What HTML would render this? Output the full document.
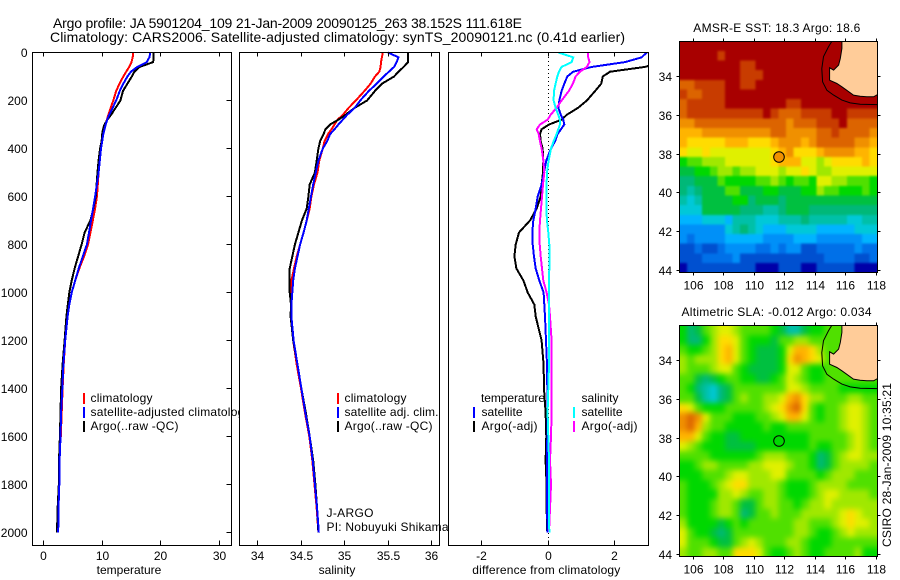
<!DOCTYPE html>
<html>
<head>
<meta charset="utf-8">
<title>Argo profile</title>
<style>
html,body{margin:0;padding:0;background:#fff;width:900px;height:580px;overflow:hidden}
svg{display:block}
text{font-family:"Liberation Sans",sans-serif;font-size:12px;fill:#000}
.t{font-size:14px}
.frame{fill:none;stroke:#000;stroke-width:1;shape-rendering:crispEdges}
.bg{fill:#fff;stroke:none}
</style>
</head>
<body>
<svg id="fig" xmlns="http://www.w3.org/2000/svg" width="900" height="580" viewBox="0 0 900 580">
  <rect class="bg" x="0" y="0" width="900" height="580"/>
  <defs>
    <clipPath id="clip-diff"><rect x="448.5" y="52.5" width="200" height="493"/></clipPath>
    <clipPath id="clip-sst"><rect x="679.5" y="41.5" width="198" height="231"/></clipPath>
    <clipPath id="clip-sla"><rect x="679.5" y="325.5" width="198" height="231"/></clipPath>
    <filter id="blur-sst" filterUnits="userSpaceOnUse" x="640" y="0" width="260" height="310" color-interpolation-filters="sRGB"><feGaussianBlur stdDeviation="1"/></filter>
    <filter id="blur-sla" filterUnits="userSpaceOnUse" x="640" y="290" width="260" height="290" color-interpolation-filters="sRGB"><feGaussianBlur stdDeviation="3"/></filter>
  </defs>

  <text class="t" x="53" y="28" textLength="469">Argo profile: JA 5901204_109 21-Jan-2009 20090125_263 38.152S 111.618E</text>
  <text class="t" x="50" y="42" textLength="575">Climatology: CARS2006. Satellite-adjusted climatology: synTS_20090121.nc (0.41d earlier)</text>

  <g>
    <rect class="bg" x="32.5" y="52.5" width="199" height="493"/>
    <g id="temp-marks"></g>
    <rect class="frame" x="32.5" y="52.5" width="199" height="493"/>
    <g id="temp-ticks"></g>
    <text x="129" y="574" text-anchor="middle">temperature</text>
    <g>
      <rect x="83" y="393" width="2" height="11" fill="#f00"/>
      <text x="90.5" y="402" textLength="62">climatology</text>
      <rect x="83" y="407" width="2" height="11" fill="#00f"/>
      <text x="90.5" y="416" textLength="160">satellite-adjusted climatology</text>
      <rect x="83" y="421" width="2" height="11" fill="#000"/>
      <text x="90.5" y="430" textLength="88">Argo(..raw -QC)</text>
    </g>
  </g>

  <g>
    <rect class="bg" x="239.5" y="52.5" width="200" height="493"/>
    <g id="sal-marks"></g>
    <rect class="frame" x="239.5" y="52.5" width="200" height="493"/>
    <g id="sal-ticks"></g>
    <text x="337" y="574" text-anchor="middle">salinity</text>
    <g>
      <rect x="337" y="393" width="2" height="11" fill="#f00"/>
      <text x="344.5" y="402" textLength="62">climatology</text>
      <rect x="337" y="407" width="2" height="11" fill="#00f"/>
      <text x="344.5" y="416" textLength="94">satellite adj. clim.</text>
      <rect x="337" y="421" width="2" height="11" fill="#000"/>
      <text x="344.5" y="430" textLength="88">Argo(..raw -QC)</text>
    </g>
    <text x="326.5" y="517" textLength="47">J-ARGO</text>
    <text x="326.5" y="531" textLength="122">PI: Nobuyuki Shikama</text>
  </g>

  <g>
    <rect class="bg" x="448.5" y="52.5" width="200" height="493"/>
    <line x1="548.5" y1="53" x2="548.5" y2="545" stroke="#000" stroke-width="1" stroke-dasharray="1 3" shape-rendering="crispEdges"/>
    <g id="diff-marks" clip-path="url(#clip-diff)"></g>
    <rect class="frame" x="448.5" y="52.5" width="200" height="493"/>
    <g id="diff-ticks"></g>
    <text x="546.3" y="574" text-anchor="middle" textLength="148">difference from climatology</text>
    <g>
      <text x="481" y="402" textLength="64">temperature</text>
      <rect x="473" y="407" width="2" height="11" fill="#00f"/>
      <text x="481.5" y="416" textLength="41">satellite</text>
      <rect x="473" y="421" width="2" height="11" fill="#000"/>
      <text x="481.5" y="430" textLength="56">Argo(-adj)</text>
      <text x="581.5" y="402" textLength="37">salinity</text>
      <rect x="573" y="407" width="2" height="11" fill="#0ff"/>
      <text x="581.5" y="416" textLength="41">satellite</text>
      <rect x="573" y="421" width="2" height="11" fill="#f0f"/>
      <text x="581.5" y="430" textLength="56">Argo(-adj)</text>
    </g>
  </g>

  <g>
    <text x="693.3" y="32" textLength="167">AMSR-E SST: 18.3 Argo: 18.6</text>
    <g id="sst-cells" clip-path="url(#clip-sst)"></g>
    <rect class="frame" x="679.5" y="41.5" width="198" height="231"/>
    <g id="sst-ticks"></g>
  </g>

  <g>
    <text x="681.5" y="316" textLength="190">Altimetric SLA: -0.012 Argo: 0.034</text>
    <g id="sla-cells" clip-path="url(#clip-sla)"></g>
    <rect class="frame" x="679.5" y="325.5" width="198" height="231"/>
    <g id="sla-ticks"></g>
  </g>

  <text transform="translate(891 547) rotate(-90)" x="0" y="0" textLength="164">CSIRO 28-Jan-2009 10:35:21</text>
</svg>

<script>
// ---------- profile data ----------
var depths = [0,20,40,60,80,100,130,160,200,230,260,280,300,320,340,370,400,450,500,550,600,650,700,750,800,850,900,950,1000,1050,1100,1200,1300,1400,1500,1600,1700,1800,1900,2000];

var tempClim = [15.3,15.2,15.0,14.6,14.1,13.6,12.95,12.4,11.9,11.45,11.05,10.8,10.6,10.4,10.2,10.0,9.8,9.6,9.4,9.25,9.1,8.8,8.4,8.0,7.6,6.9,6.1,5.4,4.8,4.4,4.1,3.7,3.45,3.25,3.1,2.95,2.6,2.7,2.45,2.4];
var tempSat = [18.2,18.05,17.6,16.0,14.9,14.3,13.6,13.0,12.4,11.8,11.2,10.85,10.6,10.4,10.2,10.0,9.8,9.6,9.4,9.1,8.8,8.45,8.1,7.75,7.4,6.7,6.0,5.4,4.8,4.4,4.1,3.7,3.4,3.2,3.0,2.9,2.75,2.7,2.55,2.5];
var tempArgo = [18.75,18.75,18.7,16.4,15.5,15.05,14.3,13.55,13.1,12.3,11.5,10.9,10.4,10.15,10.0,9.9,9.65,9.4,9.2,9.05,8.9,8.5,8.0,7.0,6.5,5.9,5.3,4.8,4.4,4.15,3.9,3.6,3.25,3.0,2.9,2.8,2.65,2.6,2.4,2.3];

var salClim = [35.44,35.43,35.42,35.415,35.40,35.35,35.30,35.23,35.13,35.05,34.98,34.92,34.885,34.85,34.81,34.77,34.75,34.71,34.69,34.65,34.62,34.60,34.565,34.53,34.49,34.45,34.42,34.39,34.39,34.39,34.385,34.41,34.45,34.50,34.545,34.595,34.63,34.655,34.68,34.70];
var salSat = [35.50,35.62,35.60,35.57,35.51,35.45,35.37,35.28,35.18,35.12,35.03,34.98,34.93,34.885,34.835,34.80,34.75,34.70,34.67,34.64,34.615,34.59,34.565,34.53,34.49,34.46,34.43,34.41,34.40,34.39,34.39,34.415,34.46,34.505,34.55,34.60,34.635,34.66,34.685,34.705];
var salArgo = [35.73,35.73,35.73,35.68,35.62,35.57,35.43,35.35,35.26,35.12,35.01,34.93,34.835,34.78,34.76,34.72,34.70,34.68,34.66,34.60,34.585,34.565,34.51,34.47,34.43,34.40,34.37,34.37,34.37,34.385,34.38,34.41,34.46,34.505,34.555,34.60,34.64,34.665,34.685,34.70];

var diffTempSat = [2.96,2.81,2.31,1.31,0.75,0.57,0.48,0.40,0.33,0.30,0.38,0.45,0.48,0.38,0.28,0.20,0.08,-0.06,-0.13,-0.20,-0.32,-0.38,-0.45,-0.48,-0.47,-0.43,-0.38,-0.27,-0.14,-0.12,-0.10,-0.07,-0.04,-0.03,-0.02,-0.03,-0.04,-0.04,-0.04,-0.02];
var diffTempArgo = [3.5,3.5,3.4,2.91,1.86,1.64,1.59,1.41,1.16,0.90,0.55,0.40,0.02,-0.20,-0.25,-0.23,-0.17,-0.15,-0.16,-0.20,-0.23,-0.35,-0.55,-0.88,-0.98,-1.02,-0.96,-0.75,-0.62,-0.42,-0.38,-0.20,-0.14,-0.13,-0.08,-0.06,-0.08,-0.05,-0.05,-0.03];
var diffSalSat = [0.30,0.75,0.70,0.40,0.32,0.27,0.22,0.17,0.16,0.22,0.30,0.35,0.35,0.30,0.25,0.16,0.08,0.01,-0.04,-0.05,-0.05,-0.06,-0.04,0,0.03,0.03,0.03,0.02,0.02,0.02,0.02,0.02,0.02,0,-0.02,0,0.02,0.02,0.02,0.03];
var diffSalArgo = [1.20,1.20,1.24,1.16,0.95,0.82,0.74,0.62,0.40,0.25,0.07,-0.02,-0.25,-0.35,-0.29,-0.25,-0.20,-0.15,-0.12,-0.16,-0.19,-0.22,-0.25,-0.27,-0.26,-0.23,-0.19,-0.15,-0.05,0.02,0.05,0.10,0.10,0.10,0.10,0.08,0.05,0.08,0.05,0.02];

var depthTicks = [0,200,400,600,800,1000,1200,1400,1600,1800,2000];
var tempTicks = [0,10,20,30];
var salTicks = [34,34.5,35,35.5,36];
var diffTicks = [-2,0,2];
var lonTicks = [106,108,110,112,114,116,118];
var latTicks = [34,36,38,40,42,44];

// ---------- map data: colour-level grids, 0.5 degree cells ----------
var sstGrid = [
[0,0,0,0,0,0,0,0,0,0,0,0,0,0,0,0,0,0,0,0,0,0,0,0,0,0],
[0,0,0,0,0,1,0,0,0,0,0,0,0,0,0,0,0,0,0,0,0,0,0,0,0,0],
[0,0,0,0,0,0,0,0,1,1,0,0,0,0,0,0,0,0,0,0,0,0,0,0,0,0],
[0,0,0,0,0,0,0,0,1,1,1,0,0,0,0,0,0,0,0,0,0,0,0,0,0,0],
[2,2,1,1,1,1,0,0,1,1,0,0,0,0,0,0,0,0,0,0,0,0,0,0,0,0],
[1,2,2,1,1,1,0,0,0,0,0,0,0,0,0,0,0,0,0,0,0,0,0,0,0,0],
[2,1,1,1,1,1,0,0,0,0,0,0,0,0,1,1,0,0,0,0,0,0,0,0,0,0],
[2,1,1,1,1,1,1,1,1,1,1,0,1,2,2,2,1,1,1,1,0,0,1,1,1,1],
[3,3,2,2,2,2,2,2,2,2,2,2,2,2,3,2,2,2,1,1,1,0,2,2,2,2],
[4,4,4,3,3,3,3,3,3,3,3,3,2,2,3,3,3,3,2,2,1,2,2,2,2,3],
[4,5,5,5,5,5,4,4,4,5,5,5,4,3,3,3,4,3,2,2,2,2,2,3,3,4],
[5,6,6,5,6,6,6,6,6,6,6,6,5,4,3,5,5,5,4,3,3,3,3,4,4,5],
[9,8,8,7,7,7,6,6,6,6,6,6,5,4,4,4,6,6,7,6,5,5,5,5,4,5],
[10,10,9,9,8,7,7,8,7,7,6,6,6,7,6,6,5,6,7,7,6,6,6,6,6,6],
[11,11,10,10,10,8,9,9,9,9,8,8,7,8,9,8,8,9,6,6,7,7,8,8,8,9],
[11,12,11,10,10,10,8,8,10,10,10,9,9,10,10,10,9,9,7,8,8,9,9,9,8,9],
[12,13,12,10,10,10,10,9,9,11,10,10,10,11,10,10,10,10,10,10,10,10,10,10,10,10],
[13,13,13,10,10,10,10,10,11,11,11,12,12,11,10,10,10,11,11,11,11,11,11,11,11,11],
[14,14,14,13,13,13,14,12,12,12,13,13,13,12,12,12,11,12,12,12,12,12,13,13,12,12],
[15,15,15,15,15,15,13,12,11,12,13,14,14,14,13,13,13,13,14,14,14,14,14,13,13,13],
[15,16,15,15,15,15,14,14,14,14,14,15,15,15,15,14,14,14,15,15,15,15,15,15,14,14],
[17,17,16,17,17,16,15,15,15,15,16,16,15,16,15,15,17,17,16,16,16,16,16,15,16,16],
[17,17,17,16,16,16,16,15,17,17,17,17,17,17,17,17,17,17,17,16,16,16,16,17,17,16],
[18,17,17,17,17,17,17,17,17,17,18,18,18,17,17,17,18,18,17,17,17,17,17,18,18,18]
];
var slaGrid = [
[9,11,10,8,7,6,6,7,8,8,8,8,9,10,12,12,10,9,9,8,8,8,8,8,8,8],
[9,11,11,9,7,5,5,6,8,9,9,9,10,8,8,7,7,8,8,8,8,8,8,8,8,8],
[8,9,9,8,7,5,4,6,8,9,10,10,10,9,6,4,4,5,7,8,8,8,8,8,8,8],
[7,8,7,7,7,5,4,6,8,9,10,10,10,9,5,3,4,5,6,8,8,8,8,8,8,8],
[7,8,8,8,7,6,6,8,9,10,10,10,10,9,6,6,8,9,9,8,8,8,8,8,8,8],
[8,8,10,11,10,9,8,8,9,9,10,10,9,8,6,7,8,9,9,8,8,8,8,8,8,8],
[8,9,11,12,13,11,10,8,8,8,8,8,8,8,6,6,7,8,8,8,8,9,9,9,9,9],
[8,8,10,12,13,11,10,8,7,8,8,7,7,6,4,3,5,7,7,8,8,8,7,7,8,8],
[5,6,8,9,9,9,8,8,8,8,8,7,6,5,3,2,5,8,9,8,8,7,6,6,7,8],
[3,2,3,6,8,8,8,9,9,9,8,8,7,6,4,4,6,8,9,8,8,7,6,6,7,8],
[3,2,4,7,8,8,9,9,9,9,9,8,9,9,8,8,8,8,8,8,8,7,6,6,7,8],
[4,4,6,8,9,9,10,10,9,9,9,9,9,9,9,9,9,8,8,8,8,8,7,6,7,8],
[6,7,8,9,9,9,10,10,10,10,9,9,9,9,9,9,9,8,9,9,8,8,7,6,7,8],
[8,8,8,8,9,9,9,9,9,9,8,7,7,7,8,8,8,9,11,10,8,7,6,6,7,7],
[9,9,8,7,7,8,8,8,8,7,7,6,6,6,7,8,8,9,11,10,8,7,7,7,7,8],
[9,9,9,8,8,8,7,6,6,7,7,7,6,6,8,8,8,8,9,8,7,7,7,8,8,8],
[8,9,9,9,8,7,6,5,5,7,7,7,7,8,9,9,9,8,7,7,7,7,8,8,8,8],
[8,9,9,9,9,7,7,6,7,8,8,7,7,8,9,9,9,8,7,6,6,7,7,7,7,8],
[8,9,9,9,8,7,7,8,10,10,8,7,7,8,8,9,8,7,7,6,7,7,7,7,7,7],
[8,9,9,9,8,7,7,8,11,10,8,8,7,8,8,8,7,7,7,7,7,6,5,6,7,7],
[7,9,9,9,9,10,9,8,9,8,8,8,8,8,8,7,7,8,8,8,7,6,5,6,6,7],
[6,8,9,9,10,11,10,8,8,8,8,8,8,8,8,7,7,8,9,9,8,7,6,7,7,7],
[6,8,8,8,9,10,10,8,7,6,7,8,8,8,7,7,8,9,9,9,8,8,8,8,8,8],
[7,8,8,7,7,8,8,5,5,5,6,8,9,9,8,7,8,9,9,8,8,8,8,7,9,9]
];
var argoLon = [111.618];
var argoLat = [38.152];
var sstAtFloat = [3];
var slaAtFloat = [9];
var landLon = [115.75,115.75,115.64,115.53,115.2,114.94,114.94,115.42,115.75,116.07,116.51,116.95,117.39,117.83,118.09,118.09];
var landLat = [32.18,32.55,33.07,33.41,33.67,33.55,34.19,34.36,34.53,34.71,34.96,35.02,35.05,35.05,34.93,32.18];
var shelfLon = [115.09,114.87,114.54,114.43,114.48,114.76,115.2,115.75,116.29,116.95,118.09];
var shelfLat = [32.18,32.47,32.98,33.59,34.28,34.71,34.96,35.22,35.36,35.43,35.45];
</script>
<script>
var NS = 'http://www.w3.org/2000/svg';
var colorLevels = ['#a80000','#c83c00','#dc6400','#f09000','#ffb400','#ffdc00','#e0f000','#a0e800','#50e000','#00d800','#00c040','#00b878','#00c0a8','#00c8d8','#00b4ff','#0090f8','#0070e8','#0050d0','#0000a8'];
var landColor = '#ffcc99';

function mk(tag, attrs, parent, content) {
  var el = document.createElementNS(NS, tag);
  for (var k in attrs) el.setAttribute(k, attrs[k]);
  if (content !== undefined) el.textContent = content;
  parent.appendChild(el);
  return el;
}
function linear(d0, r0, d1, r1) {
  return function (v) { return r0 + (v - d0) * (r1 - r0) / (d1 - d0); };
}
var yDepth = linear(0, 52.5, 2000, 532.5);
var xTemp = linear(0, 43.5, 30, 219.5);
var xSal = linear(34, 257.5, 36, 431.5);
var xDiff = linear(-2, 481.8, 2, 614.8);
var xLon = linear(106, 693.5, 118, 876.2);
var ySstLat = linear(34, 76.5, 44, 270.3);
var ySlaLat = linear(34, 360.5, 44, 554.3);

function drawProfile(parent, values, xScale, color, name) {
  var pts = values.map(function (v, i) { return xScale(v).toFixed(1) + ',' + yDepth(depths[i]).toFixed(1); }).join(' ');
  var line = mk('polyline', { points: pts, fill: 'none', stroke: color, 'stroke-width': 2, 'stroke-linejoin': 'miter', 'shape-rendering': 'crispEdges' }, parent);
  
  
}

var tempMarks = document.getElementById('temp-marks');
var salMarks = document.getElementById('sal-marks');
var diffMarks = document.getElementById('diff-marks');
drawProfile(tempMarks, tempClim, xTemp, '#f00', 'temperature-climatology-line');
drawProfile(tempMarks, tempArgo, xTemp, '#000', 'temperature-argo-line');
drawProfile(tempMarks, tempSat, xTemp, '#00f', 'temperature-satellite-line');
drawProfile(salMarks, salClim, xSal, '#f00', 'salinity-climatology-line');
drawProfile(salMarks, salArgo, xSal, '#000', 'salinity-argo-line');
drawProfile(salMarks, salSat, xSal, '#00f', 'salinity-satellite-line');
drawProfile(diffMarks, diffTempArgo, xDiff, '#000', 'diff-temperature-argo-line');
drawProfile(diffMarks, diffTempSat, xDiff, '#00f', 'diff-temperature-satellite-line');
drawProfile(diffMarks, diffSalArgo, xDiff, '#f0f', 'diff-salinity-argo-line');
drawProfile(diffMarks, diffSalSat, xDiff, '#0ff', 'diff-salinity-satellite-line');

function hairline(parent, x1, y1, x2, y2, name) {
  var l = mk('line', { x1: x1, y1: y1, x2: x2, y2: y2, stroke: '#000', 'stroke-width': 1, 'shape-rendering': 'crispEdges' }, parent);
  
  
}
function label(parent, x, y, anchor, str, name) {
  var t = mk('text', { x: x, y: y, 'text-anchor': anchor }, parent, str);
  
  
}
function profileXTicks(parent, ticks, xScale) {
  ticks.forEach(function (v) {
    var x = Math.floor(xScale(v)) + 0.5;
    hairline(parent, x, 52.5, x, 56.5, 'x-tick-top');
    hairline(parent, x, 540.5, x, 545.5, 'x-tick-bottom');
    label(parent, x, 560, 'middle', String(v), 'x-tick-label');
  });
}
var tempTickG = document.getElementById('temp-ticks');
profileXTicks(tempTickG, tempTicks, xTemp);
profileXTicks(document.getElementById('sal-ticks'), salTicks, xSal);
profileXTicks(document.getElementById('diff-ticks'), diffTicks, xDiff);
depthTicks.forEach(function (d) {
  var y = Math.floor(yDepth(d)) + 0.5;
  hairline(tempTickG, 226.5, y, 231.5, y, 'depth-tick');
  label(tempTickG, 27.5, y + 4.5, 'end', String(d), 'depth-tick-label');
});

function drawMap(cellsId, ticksId, grid, yScale, left, right, top, bottom, floatLevel, prefix) {
  var g = document.getElementById(cellsId);
  var field = mk('g', { filter: 'url(#blur-' + prefix + ')' }, g);
  
  
  var lon0 = 105.07, lat0 = yScale === ySstLat ? 32.18 : 32.2, step = 0.5, latStep = 0.4975;
  var pad = 14;
  var nRows = grid.length;
  grid.forEach(function (row, j) {
    row.forEach(function (level, i) {
      var x0 = xLon(lon0 + i * step), x1 = xLon(lon0 + (i + 1) * step);
      var y0 = yScale(lat0 + j * latStep), y1 = yScale(lat0 + (j + 1) * latStep);
      if (i === 0) x0 -= pad;
      if (i === row.length - 1) x1 += pad;
      if (j === 0) y0 -= pad;
      if (j === nRows - 1) y1 += pad;
      var cell = mk('rect', { x: x0.toFixed(2), y: y0.toFixed(2), width: (x1 - x0 + 0.6).toFixed(2), height: (y1 - y0 + 0.6).toFixed(2), fill: colorLevels[level], 'shape-rendering': 'crispEdges' }, field);
      
      
    });
  });
  var landPts = landLon.map(function (lon, i) { return xLon(lon).toFixed(1) + ',' + yScale(landLat[i]).toFixed(1); }).join(' ');
  var land = mk('polygon', { points: landPts, fill: landColor, stroke: '#000', 'stroke-width': 1 }, g);
  
  
  var shelfPts = shelfLon.map(function (lon, i) { return xLon(lon).toFixed(1) + ',' + yScale(shelfLat[i]).toFixed(1); }).join(' ');
  var shelf = mk('polyline', { points: shelfPts, fill: 'none', stroke: '#000', 'stroke-width': 1 }, g);
  
  
  var marker = mk('circle', { cx: xLon(argoLon[0]).toFixed(1), cy: yScale(argoLat[0]).toFixed(1), r: 5.3, fill: colorLevels[floatLevel], stroke: '#000', 'stroke-width': 1 }, g);
  
  

  var t = document.getElementById(ticksId);
  lonTicks.forEach(function (lon) {
    var x = Math.floor(xLon(lon)) + 0.5;
    hairline(t, x, top - 3, x, top, 'lon-tick-top');
    hairline(t, x, bottom, x, bottom + 3, 'lon-tick-bottom');
    label(t, x, bottom + 17, 'middle', String(lon), 'lon-tick-label');
  });
  latTicks.forEach(function (lat) {
    var y = Math.floor(yScale(lat)) + 0.5;
    hairline(t, left - 3, y, left, y, 'lat-tick-left');
    hairline(t, right, y, right + 3, y, 'lat-tick-right');
    label(t, 672, y + 4.5, 'end', String(lat), 'lat-tick-label');
  });
}
drawMap('sst-cells', 'sst-ticks', sstGrid, ySstLat, 679.5, 877.5, 41.5, 272.5, sstAtFloat[0], 'sst');
drawMap('sla-cells', 'sla-ticks', slaGrid, ySlaLat, 679.5, 877.5, 325.5, 556.5, slaAtFloat[0], 'sla');
</script>
</body>
</html>
